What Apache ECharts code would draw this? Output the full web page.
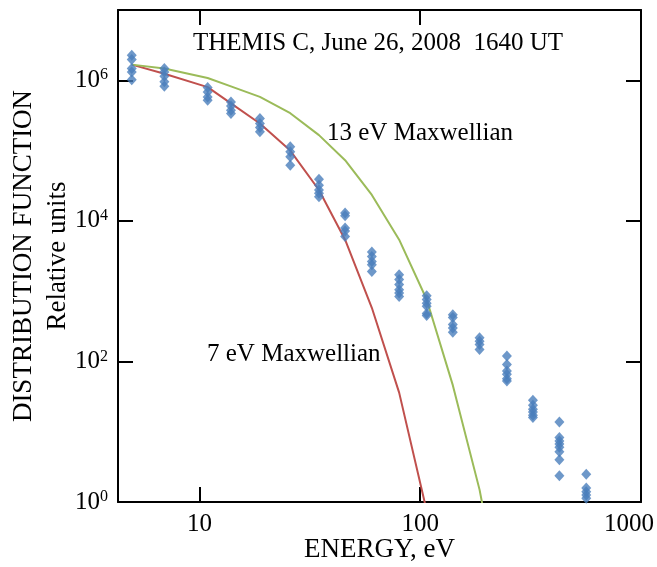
<!DOCTYPE html>
<html>
<head>
<meta charset="utf-8">
<script src="https://cdn.jsdelivr.net/npm/echarts@6/dist/echarts.min.js"></script>
<style>
html,body{margin:0;padding:0;background:#fff;}
#chart{width:657px;height:567px;}
</style>
</head>
<body>
<div id="chart"></div>
<script>
// ---- data ----
const energies = [4.94, 6.94, 10.9, 13.9, 18.8, 25.8, 34.8, 45.7, 60.4, 80.3, 107, 140.5, 185.7, 247, 324, 427, 565];
const observed = [
  [2.27e6, 1.97e6, 1.47e6, 1.31e6, 1.02e6],
  [1.47e6, 1.31e6, 1.14e6, 9.5e5, 8.2e5],
  [7.9e5, 6.8e5, 5.8e5, 5.2e5],
  [4.9e5, 4.3e5, 3.75e5, 3.37e5],
  [2.87e5, 2.43e5, 2.13e5, 1.85e5],
  [1.13e5, 9.6e4, 8.2e4, 6.2e4],
  [3.9e4, 3.2e4, 2.75e4, 2.47e4, 2.2e4],
  [1.29e4, 1.18e4, 7.9e3, 7.2e3, 6.0e3],
  [3.6e3, 3.1e3, 2.65e3, 2.38e3, 1.91e3],
  [1.71e3, 1.46e3, 1.24e3, 1.05e3, 940, 840],
  [860, 760, 670, 610, 480, 450],
  [460, 420, 335, 300, 260],
  [217, 194, 174, 148],
  [119, 90.6, 72.9, 65.5, 56.9, 52.5],
  [28.0, 23.8, 20.8, 19.1, 17.1, 15.9],
  [13.8, 8.3, 7.4, 6.7, 6.0, 5.2, 4.0, 2.36],
  [2.49, 1.58, 1.40, 1.26, 1.13]
];
const maxwell7 = [1.67e6, 1.24e6, 8.0e5, 4.7e5, 2.43e5, 1.0e5, 2.75e4, 5.4e3, 580, 36, 0.75];
const maxwell13 = [1.67e6, 1.47e6, 1.08e6, 8.2e5, 5.8e5, 3.4e5, 1.66e5, 7.3e4, 2.34e4, 5.4e3, 760, 46, 1.5, 0.014];
const xTickLabels = [10, 100, 1000];
const yTickDecades = [0, 2, 4, 6];
const titleText = 'THEMIS C, June 26, 2008  1640 UT';
const label13 = '13 eV Maxwellian';
const label7 = '7 eV Maxwellian';

// ---- build series data ----
const scatterData = [];
energies.forEach((e, i) => observed[i].forEach(v => scatterData.push([e, v])));
const red = maxwell7.map((v, i) => [energies[i], v]);
const green = maxwell13.map((v, i) => [energies[i], v]);

const FONT = 'Liberation Serif';
const black = '#000';

function xFmt(v) {
  const r = Math.round(v);
  if (Math.abs(v - r) > 1e-6 * r || xTickLabels.indexOf(r) < 0) return '';
  return r === 1000 ? '{m|' + r + '}' : '{n|' + r + '}';
}
function yFmt(v) {
  const lr = Math.log10(v);
  const l = Math.round(lr);
  if (Math.abs(lr - l) > 1e-6 || yTickDecades.indexOf(l) < 0) return '';
  return '{b|10}{s|' + l + '}';
}

const axisLineStyle = {show: true, onZero: false, lineStyle: {color: black, width: 2}};
const tickStyle = {show: true, inside: true, length: 15, lineStyle: {color: black, width: 2}};

const chart = echarts.init(document.getElementById('chart'), null, {renderer: 'canvas'});
chart.setOption({
  animation: false,
  backgroundColor: '#fff',
  grid: {left: 118, right: 16, top: 10, bottom: 65, containLabel: false, outerBoundsMode: 'none'},
  xAxis: [{
    type: 'log', logBase: 10, min: 4.28, max: 1000, position: 'bottom',
    axisLine: axisLineStyle, axisTick: tickStyle,
    splitLine: {show: false}, minorTick: {show: false},
    axisLabel: {
      formatter: xFmt, color: black, margin: 10, showMinLabel: false,
      rich: {
        n: {fontSize: 25, fontFamily: FONT, color: black},
        m: {fontSize: 25, fontFamily: FONT, color: black, padding: [0, 24, 0, 0]}
      }
    },
    name: 'ENERGY, eV', nameLocation: 'middle', nameGap: 34, nameMoveOverlap: false,
    nameTextStyle: {fontSize: 27, color: black, fontFamily: FONT}
  }, {
    type: 'log', logBase: 10, min: 4.28, max: 1000, position: 'top',
    axisLine: axisLineStyle, axisTick: tickStyle,
    splitLine: {show: false}, axisLabel: {show: false}
  }],
  yAxis: [{
    type: 'log', logBase: 10, min: 1, max: 1e7, interval: 2, position: 'left',
    axisLine: axisLineStyle, axisTick: tickStyle,
    splitLine: {show: false}, minorTick: {show: false},
    axisLabel: {
      formatter: yFmt, margin: 10, color: black,
      rich: {
        b: {fontSize: 25, fontFamily: FONT, color: black, lineHeight: 26},
        s: {fontSize: 16, fontFamily: FONT, color: black, lineHeight: 16, verticalAlign: 'top'}
      }
    },
    name: 'DISTRIBUTION FUNCTION\nRelative units', nameLocation: 'middle', nameGap: 43, nameRotate: 90,
    nameMoveOverlap: false,
    nameTextStyle: {fontSize: 27, color: black, fontFamily: FONT, lineHeight: 34, align: 'center'}
  }, {
    type: 'log', logBase: 10, min: 1, max: 1e7, interval: 2, position: 'right',
    axisLine: axisLineStyle, axisTick: tickStyle,
    splitLine: {show: false}, axisLabel: {show: false}
  }],
  series: [{
    type: 'line', name: '7 eV', data: red, symbol: 'none', smooth: false, clip: true,
    lineStyle: {color: '#C0504D', width: 2}, z: 2
  }, {
    type: 'line', name: '13 eV', data: green, symbol: 'none', smooth: false, clip: true,
    lineStyle: {color: '#9BBB59', width: 2}, z: 2
  }, {
    type: 'scatter', name: 'THEMIS C', data: scatterData, symbol: 'diamond', symbolSize: [10, 11],
    itemStyle: {color: '#4A7EBB'}, z: 3
  }],
  graphic: [
    {type: 'text', left: 193, top: 31, style: {text: titleText, font: '25px "Liberation Serif"', fill: black}},
    {type: 'text', left: 327, top: 121, style: {text: label13, font: '25px "Liberation Serif"', fill: black}},
    {type: 'text', left: 207, top: 342, style: {text: label7, font: '25px "Liberation Serif"', fill: black}}
  ]
});
</script>
</body>
</html>
